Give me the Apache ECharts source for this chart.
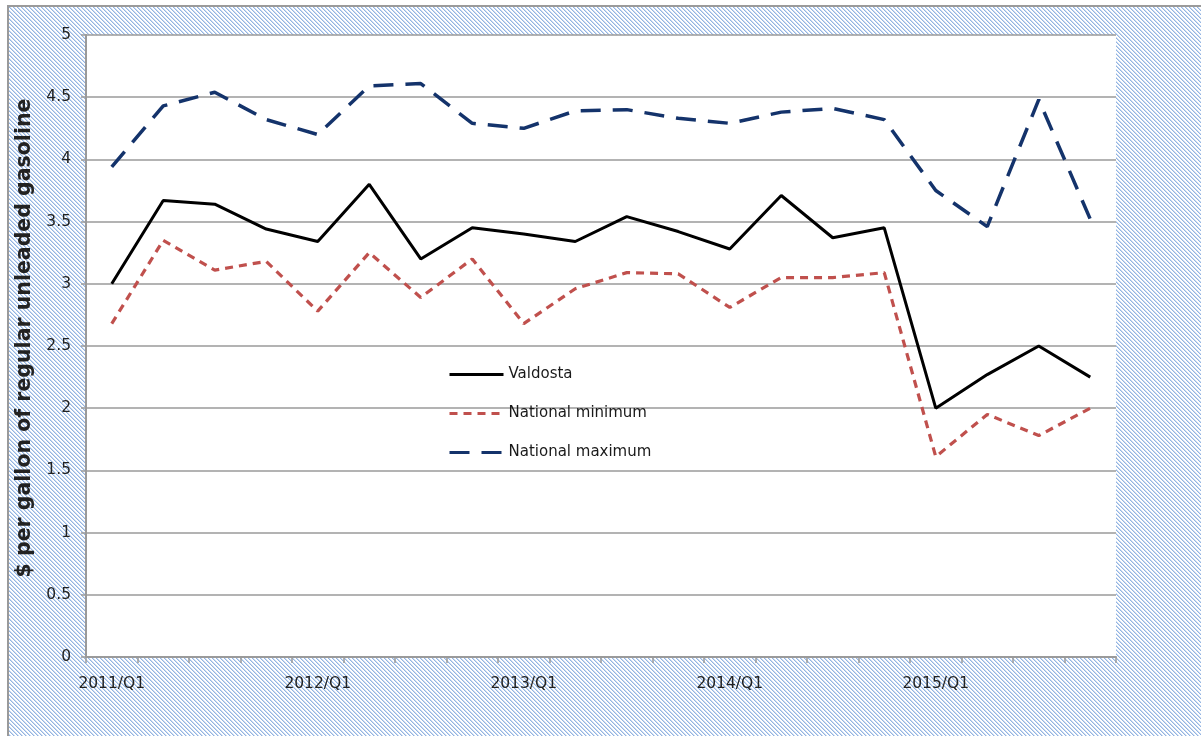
<!DOCTYPE html>
<html>
<head>
<meta charset="utf-8">
<script src="https://cdn.jsdelivr.net/npm/echarts@6/dist/echarts.min.js"></script>
<style>
  html, body { margin: 0; padding: 0; background: #fff; }
  #frame {
    position: absolute; left: 7px; top: 5px; width: 1200px; height: 740px;
    border-left: 2px solid #9a9a9a; border-top: 2px solid #9a9a9a;
  }
  #chart { position: absolute; left: 0; top: 0; width: 1201px; height: 736px; }
</style>
</head>
<body>
<div id="frame"></div>
<div id="chart"></div>
<script>
const categories = [
  '2011/Q1','2011/Q2','2011/Q3','2011/Q4',
  '2012/Q1','2012/Q2','2012/Q3','2012/Q4',
  '2013/Q1','2013/Q2','2013/Q3','2013/Q4',
  '2014/Q1','2014/Q2','2014/Q3','2014/Q4',
  '2015/Q1','2015/Q2','2015/Q3','2015/Q4'
];
const valdosta = [3.00, 3.67, 3.64, 3.44, 3.34, 3.80, 3.20, 3.45, 3.40, 3.34, 3.54, 3.42, 3.28, 3.71, 3.37, 3.45, 2.00, 2.27, 2.50, 2.25];
const nationalMin = [2.68, 3.35, 3.11, 3.18, 2.78, 3.25, 2.89, 3.20, 2.68, 2.96, 3.09, 3.08, 2.81, 3.05, 3.05, 3.09, 1.61, 1.95, 1.78, 2.00];
const nationalMax = [3.94, 4.43, 4.54, 4.32, 4.20, 4.59, 4.61, 4.29, 4.25, 4.39, 4.40, 4.33, 4.29, 4.38, 4.41, 4.32, 3.75, 3.46, 4.48, 3.52];
const seriesNames = ['Valdosta', 'National minimum', 'National maximum'];
const yAxisTitle = '$ per gallon of regular unleaded gasoline';

// hatch tile for the chart-area background
(function () {
  const c = document.createElement('canvas');
  c.width = 4; c.height = 4;
  const ctx = c.getContext('2d');
  ctx.fillStyle = '#ffffff'; ctx.fillRect(0, 0, 4, 4);
  for (let y = 0; y < 4; y++) {
    for (let x = 0; x < 4; x++) {
      const d = ((x - y) % 4 + 4) % 4;
      if (d === 0) { ctx.fillStyle = '#93b4e2'; ctx.fillRect(x, y, 1, 1); }
      else if (d === 1) { ctx.fillStyle = '#cbdbf1'; ctx.fillRect(x, y, 1, 1); }
    }
  }
  document.getElementById('frame').style.backgroundImage = 'url(' + c.toDataURL() + ')';
})();

const chart = echarts.init(document.getElementById('chart'), null, { renderer: 'canvas' });
const labelFont = { fontFamily: 'DejaVu Sans', fontSize: 15.5, color: '#222' };
chart.setOption({
  backgroundColor: 'transparent',
  animation: false,
  grid: { left: 86, top: 35, right: 85, bottom: 79, show: true, backgroundColor: '#fff', borderWidth: 0 },
  legend: {
    orient: 'vertical', left: 443, top: 362, itemWidth: 54, itemHeight: 14, itemGap: 24,
    itemStyle: { opacity: 0 },
    lineStyle: { width: 3 },
    textStyle: { fontFamily: 'DejaVu Sans', fontSize: 15, color: '#1a1a1a' },
    data: seriesNames
  },
  xAxis: {
    type: 'category', data: categories, boundaryGap: true,
    axisLine: { show: true, lineStyle: { color: '#9a9a9a', width: 2 } },
    axisTick: { show: true, interval: 0, length: 6, lineStyle: { color: '#9a9a9a', width: 1.5 } },
    axisLabel: Object.assign({ interval: 3, margin: 19 }, labelFont),
    splitLine: { show: false }
  },
  yAxis: {
    type: 'value', min: 0, max: 5, interval: 0.5,
    name: yAxisTitle, nameLocation: 'middle', nameGap: 45, nameRotate: 90,
    nameTextStyle: { fontFamily: 'DejaVu Sans', fontWeight: 'bold', fontSize: 20.5, color: '#222', padding: [0, 0, 0, 16] },
    axisLine: { show: true, lineStyle: { color: '#9a9a9a', width: 2 } },
    axisTick: { show: true, length: 5, lineStyle: { color: '#9a9a9a', width: 1.5 } },
    axisLabel: Object.assign({ margin: 15 }, labelFont),
    splitLine: { show: true, lineStyle: { color: '#9a9a9a', width: 1.5 } }
  },
  series: [
    { name: seriesNames[0], type: 'line', data: valdosta, symbol: 'none', color: '#000',
      lineStyle: { color: '#000', width: 3 } },
    { name: seriesNames[1], type: 'line', data: nationalMin, symbol: 'none', color: '#c0504d',
      lineStyle: { color: '#c0504d', width: 3.2, type: [8, 6] } },
    { name: seriesNames[2], type: 'line', data: nationalMax, symbol: 'none', color: '#14336b',
      lineStyle: { color: '#14336b', width: 3.5, type: [20, 12] } }
  ]
});
</script>
</body>
</html>
